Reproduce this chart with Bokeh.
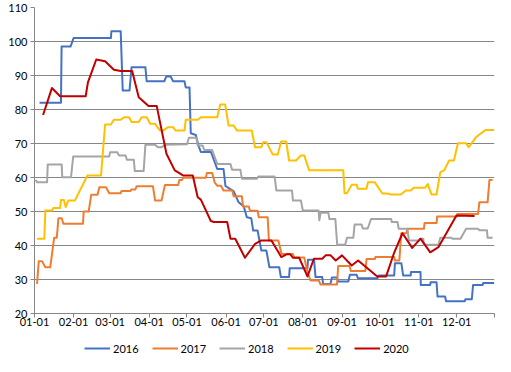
from bokeh.plotting import figure
from bokeh.layouts import column
from bokeh.models import FixedTicker, Range1d, Legend, LegendItem
from bokeh.embed import file_html
from bokeh.resources import INLINE

# ---- data (day of year, value) ----
tick_days = [0, 31, 60, 91, 121, 152, 182, 213, 244, 274, 305, 335, 365]
tick_labels = ["01-01", "02-01", "03-01", "04-01", "05-01", "06-01", "07-01",
               "08-01", "09-01", "10-01", "11-01", "12-01", ""]
y_ticks = [20, 30, 40, 50, 60, 70, 80, 90, 100, 110]

d2016 = [4, 21, 21.5, 28.6, 31, 60.6, 61, 68.4, 70, 75.4, 77, 88, 89, 103, 104.5, 108, 110, 119,
         120, 123, 124, 128, 130, 132, 140, 142.5, 145, 150, 151.5, 157, 158, 162, 166, 168.5,
         172, 173.5, 177, 178.4, 180, 184, 186.4, 194.2, 195.5, 202, 202.5, 216.6, 217, 221.8,
         223, 228.3, 229, 234.8, 236, 240, 241, 249, 250.3, 255.6, 256.6, 272.2, 273, 285.4,
         286, 291.1, 292.5, 298.5, 298.7, 306.3, 306.5, 314, 314.3, 319, 319.8, 325.8, 326.6,
         341.4, 342, 347, 348, 355.6, 356, 364.8]
v2016 = [82, 82, 98.5, 98.5, 101, 101, 103, 103, 85.6, 85.6, 92.4, 92.4, 88.3, 88.3, 89.7, 89.7,
         88.3, 88.3, 86.5, 86.5, 73, 72.5, 69.5, 67.5, 67.5, 65, 62.5, 62.5, 57.5, 56.2, 56,
         52.7, 51.5, 48.3, 48, 44.4, 44.4, 41.7, 38.5, 38.5, 33.6, 33.6, 30.7, 30.7, 33.3, 33.3,
         35.8, 35.8, 30.7, 30.7, 28.7, 28.7, 30.6, 30.6, 29.4, 29.4, 31.4, 31.4, 30.4, 30.4,
         31.2, 31.2, 34.8, 34.8, 31.2, 31.2, 32.2, 32.2, 28.4, 28.4, 29.2, 29.2, 25, 25, 23.6,
         23.6, 24.2, 24.2, 28.4, 28.4, 29, 29]

d2017 = [2, 3.4, 6, 8.6, 12.5, 15.6, 17.7, 19, 21.6, 22.9, 38.5, 39, 43, 45, 50, 51.5, 56.7,
         59.3, 68.4, 69, 76, 77, 80, 81, 94, 95.7, 100.8, 103.5, 114, 115, 117, 118, 136, 136.7,
         141, 143, 145, 148, 150, 157, 158, 164.5, 165.5, 170, 171, 177, 178, 185, 186, 193.5,
         196, 205, 206, 214, 216.6, 219, 225.6, 227, 240, 241, 250, 251, 262.5, 263.5, 270,
         270.5, 285.5, 286, 289.5, 291, 295, 296, 309, 309.5, 319, 319.5, 335, 335.5, 352, 353,
         359.5, 361, 363.5]
v2017 = [28.7, 35.4, 35.4, 33.6, 33.6, 42.3, 42.3, 48, 48, 46.4, 46.4, 50, 50, 54.9, 54.9, 57.1,
         57.1, 55.4, 55.4, 56, 56, 56.5, 56.5, 57.4, 57.4, 53.2, 53.2, 57.8, 57.8, 59.3, 59.3,
         59.9, 59.9, 61.3, 61.3, 58.5, 57.6, 57.6, 56.2, 56.2, 54.5, 54.5, 51.5, 51.5, 50.2,
         50.2, 48.3, 48.3, 41.5, 41.5, 37.5, 37.5, 36.5, 36.5, 32.2, 29.7, 29.7, 28.5, 28.5,
         34, 34, 32.5, 32.5, 36, 36, 36.6, 36.6, 35.6, 35.6, 43.6, 43.6, 44.9, 44.9, 46.6,
         46.6, 48.5, 48.5, 49.3, 49.3, 52.7, 52.7, 59.3, 59.3]

d2018 = [1, 2, 10, 10.5, 21.6, 22, 29, 30.7, 59.3, 60, 65.8, 67, 72.3, 73.3, 78.8, 79.6, 86.6,
         88, 95.7, 98, 101, 103.5, 121, 122.5, 128.5, 129.5, 133.4, 134.7, 141, 143, 145, 155.4,
         156.8, 163.3, 164.6, 176.3, 177.6, 190.5, 191.9, 204.3, 205.1, 211.4, 212.9, 225.4, 226,
         227, 233.2, 234, 238.7, 240.2, 246.5, 248, 253, 254, 259.5, 260.5, 264.4, 267, 283,
         283.5, 288, 289, 296, 297, 305, 306, 308.5, 309, 320.5, 322, 331, 331.5, 338, 342.5,
         352, 353, 359, 359.5, 363.5]
v2018 = [59.3, 58.6, 58.6, 63.8, 63.8, 60.1, 60.1, 66.2, 66.2, 67.4, 67.4, 66.5, 66.5, 65.2,
         65.2, 61.9, 61.9, 69.6, 69.6, 68.9, 68.9, 69.6, 69.8, 71.7, 71.7, 69.4, 69.4, 68.1, 68.1,
         66, 64, 64, 62.3, 62.3, 59.6, 59.6, 60.3, 60.3, 56.2, 56.2, 53.2, 53.2, 50.3, 50.3, 47.4,
         49.6, 49.6, 47.8, 47.8, 40.2, 40.2, 42.3, 42.3, 46.2, 46.2, 45, 45, 47.8, 47.8, 46.9,
         46.9, 44.9, 44.9, 41.5, 41.5, 42, 42, 40.2, 40.2, 42.3, 42.3, 42, 42, 44.9, 44.9, 44.5,
         44.5, 42.3, 42.3]

d2019 = [2, 7.8, 8.6, 13.8, 15, 20.3, 21, 23.4, 24.7, 26.8, 32, 42, 52.8, 56, 60.6, 63, 68.4,
         71, 75, 77, 82.7, 85, 89, 91.8, 95.7, 99.6, 102, 106, 110, 112, 119, 120, 129.5, 132,
         145, 147.4, 151.3, 154, 158, 160.7, 172.4, 175, 180, 181.5, 184, 189, 193, 195.7, 199.7,
         202, 207.5, 211.4, 214, 218, 245, 246, 248, 251.7, 255.6, 256.6, 263.4, 264.6, 270, 276,
         280, 283, 290.7, 294.6, 298.5, 301, 310, 312, 315, 319, 322, 325, 329, 332.8, 336,
         342.6, 344.5, 350.4, 358, 365]
v2019 = [42, 42, 50.3, 50.3, 51, 51, 53.4, 53.4, 51.3, 53.2, 53.2, 60.6, 60.6, 75.6, 75.6, 77,
         77, 77.7, 77.7, 76.3, 76.3, 77.7, 77.7, 75.8, 75.8, 73.8, 73.8, 74.8, 74.8, 73.8, 73.8,
         77, 77, 77.7, 77.7, 81.5, 81.5, 75.3, 75.3, 73.8, 73.8, 68.9, 68.9, 70.4, 70.4, 66.8,
         66.8, 70.6, 70.6, 65, 65, 66.5, 66.5, 62.1, 62.1, 55.4, 55.4, 57.9, 57.9, 56.7, 56.7,
         58.6, 58.6, 55.3, 55.3, 55, 55, 56.2, 56.2, 57, 57, 58.1, 55, 55, 61.6, 62.1, 65, 65,
         70.1, 70.1, 68.9, 71.9, 74, 74]

d2020 = [6.8, 13.8, 20.3, 40.6, 42.4, 49, 56, 63, 68.4, 77.5, 82.7, 90.5, 97, 104.7, 111.3, 114,
         117.8, 125.6, 129.5, 132, 139.9, 142.5, 152.9, 155.5, 159.3, 167, 175, 180, 188, 195.8,
         200, 203, 205, 210, 216.6, 221.7, 228.3, 231, 235, 239, 244, 251.7, 256.8, 272, 279,
         285.5, 292, 299.7, 306.3, 314, 320.5, 334.8, 349.2]
v2020 = [78.4, 86.3, 83.9, 83.9, 88, 94.7, 94.2, 91.7, 91.3, 91.3, 83.6, 81, 81, 67, 62.1, 61.5,
         60.6, 60.6, 54.2, 53.5, 47.2, 46.9, 46.9, 42, 42, 36.4, 40.5, 41.5, 41.5, 36.6, 37.4,
         37.4, 36.4, 36.4, 30.9, 36.1, 36.1, 37.1, 37.1, 35.6, 37.1, 34.1, 35.6, 30.9, 30.9, 38,
         43.6, 39.3, 42, 38, 39.5, 48.8, 48.7]

series = [
    ("2016", d2016, v2016, "#4472C4"),
    ("2017", d2017, v2017, "#ED7D31"),
    ("2018", d2018, v2018, "#A5A5A5"),
    ("2019", d2019, v2019, "#FFC000"),
    ("2020", d2020, v2020, "#C00000"),
]

FONT = "Lato"
GRID = "#868686"

p = figure(width=495, height=333, output_backend="svg", toolbar_location=None,
           x_range=Range1d(0, 365), y_range=Range1d(20, 110),
           min_border_left=34, min_border_right=1, min_border_top=7, min_border_bottom=20)
p.outline_line_color = None
p.background_fill_color = "white"
p.border_fill_color = "white"

p.xgrid.visible = False
p.ygrid.grid_line_color = GRID
p.ygrid.grid_line_width = 1

for ax in (p.xaxis[0], p.yaxis[0]):
    ax.axis_line_color = GRID
    ax.major_tick_line_color = GRID
    ax.minor_tick_line_color = None
    ax.major_tick_in = 0
    ax.major_tick_out = 4
    ax.major_label_text_font = FONT
    ax.major_label_text_font_size = "11px"
    ax.major_label_text_color = "#000000"

p.xaxis.ticker = FixedTicker(ticks=tick_days)
p.xaxis.major_label_overrides = {d: l for d, l in zip(tick_days, tick_labels)}
p.xaxis.major_label_standoff = 0
p.yaxis.ticker = FixedTicker(ticks=y_ticks)
p.yaxis.major_label_standoff = 3
p.ygrid.ticker = FixedTicker(ticks=y_ticks)

for name, d, v, c in series:
    p.line(d, v, line_color=c, line_width=2, line_join="round")

# legend strip underneath the chart (legend-only figure, keys drawn off-range)
pl = figure(width=495, height=23, output_backend="svg", toolbar_location=None,
            x_axis_type=None, y_axis_type=None, x_range=Range1d(0, 1), y_range=Range1d(0, 1),
            min_border_left=0, min_border_right=0, min_border_top=0, min_border_bottom=0)
pl.outline_line_color = None
items = []
for name, d, v, c in series:
    r = pl.line([-10, -9], [-10, -9], line_color=c, line_width=2)
    items.append(LegendItem(label=name, renderers=[r]))

legend = Legend(items=items, orientation="horizontal", location=(50, 1),
                glyph_width=26, glyph_height=14, label_height=14, label_standoff=3,
                spacing=13, padding=0, margin=0, border_line_color=None,
                background_fill_alpha=0, label_text_font=FONT, label_text_font_size="11px",
                label_text_color="#000000")
pl.add_layout(legend, "center")

layout = column(p, pl, spacing=0)
open("out.html", "w").write(file_html(layout, INLINE))
